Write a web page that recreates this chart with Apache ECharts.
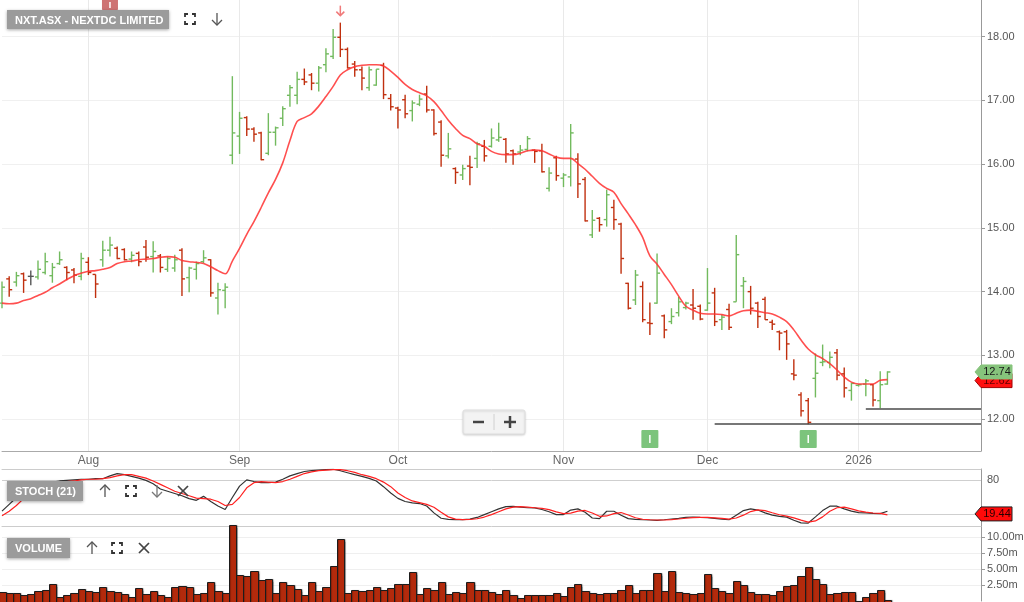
<!DOCTYPE html>
<html><head><meta charset="utf-8">
<script src="https://cdn.jsdelivr.net/npm/echarts@6/dist/echarts.min.js"></script>
<style>html,body{margin:0;padding:0;background:#fff}#c{width:1024px;height:602px}</style>
</head><body><div id="c"></div>
<script>
// ---------- DATA ----------
const tradingDays = [
  ['2025-07', [16,17,18,21,22,23,24,25,28,29,30,31]],
  ['2025-08', [1,4,5,6,7,8,11,12,13,14,15,18,19,20,21,22,25,26,27,28,29]],
  ['2025-09', [1,2,3,4,5,8,9,10,11,12,15,16,17,18,19,22,23,24,25,26,29,30]],
  ['2025-10', [1,2,3,6,7,8,9,10,13,14,15,16,17,20,21,22,23,24,27,28,29,30,31]],
  ['2025-11', [3,4,5,6,7,10,11,12,13,14,17,18,19,20,21,24,25,26,27,28]],
  ['2025-12', [1,2,3,4,5,8,9,10,11,12,15,16,17,18,19,22,23,24,29,30,31]],
  ['2026-01', [2,5,6,7,8]]
];
const monthLabels = {'2025-08-01':'Aug','2025-09-01':'Sep','2025-10-01':'Oct','2025-11-03':'Nov','2025-12-01':'Dec','2026-01-02':'2026'};
const futurePad = 13;

const open = [13.82,14.20,14.15,14.28,14.24,14.23,14.30,14.25,14.44,14.38,
14.34,14.24,14.46,14.27,14.50,14.65,14.68,14.66,14.51,14.60,
14.70,14.55,14.56,14.35,14.37,14.65,14.22,14.35,14.47,14.50,
13.90,14.02,16.14,16.44,16.73,16.55,16.49,16.17,16.50,16.72,
17.08,17.08,17.33,17.40,17.27,17.56,17.69,17.99,17.80,17.57,
17.48,17.20,17.24,17.55,17.03,16.88,17.01,16.84,16.94,17.10,
16.85,16.66,16.13,15.93,15.83,15.97,16.09,16.28,16.28,16.38,
16.39,16.21,16.19,16.23,16.22,16.21,15.62,16.10,15.78,15.80,
16.08,15.76,14.89,15.15,15.13,15.32,15.06,14.13,13.87,14.08,
13.51,13.82,13.62,13.53,13.67,13.75,13.79,13.77,13.71,13.98,
13.56,13.72,13.84,14.09,14.00,13.82,13.88,13.52,13.37,13.37,
12.71,12.38,12.29,12.64,12.89,12.89,13.04,12.71,12.45,12.53,
12.55,12.54,12.29,12.55];
const high = [14.16,14.24,14.31,14.30,14.33,14.49,14.61,14.45,14.63,14.40,
14.37,14.61,14.54,14.27,14.80,14.86,14.71,14.68,14.63,14.63,
14.81,14.79,14.59,14.55,14.58,14.68,14.39,14.47,14.65,14.51,
14.14,14.13,17.38,16.82,16.75,16.58,16.51,16.80,16.59,16.91,
17.24,17.45,17.50,17.43,17.54,17.82,18.12,18.22,17.83,17.62,
17.53,17.53,17.49,17.59,17.10,16.90,17.09,17.00,17.09,17.23,
16.86,16.69,16.49,15.95,15.99,16.13,16.35,16.38,16.56,16.65,
16.41,16.23,16.30,16.44,16.23,16.32,15.95,16.13,15.86,16.63,
16.17,15.80,15.28,15.17,15.60,15.44,15.08,14.14,14.34,14.16,
13.83,14.60,13.64,13.74,13.92,13.84,14.04,13.80,14.37,14.06,
13.64,13.81,14.89,14.23,14.09,13.84,13.92,13.56,13.39,13.40,
12.94,12.42,12.33,13.03,13.17,13.06,13.10,12.81,12.57,12.55,
12.63,12.55,12.75,12.75];
const low = [13.74,13.92,14.08,13.98,14.10,14.19,14.27,14.14,14.42,14.18,
14.13,14.18,14.26,13.90,14.39,14.55,14.51,14.49,14.46,14.40,
14.47,14.30,14.30,14.31,14.31,13.93,13.99,14.19,14.45,13.92,
13.64,13.74,16.00,16.16,16.44,16.35,16.06,16.14,16.29,16.60,
16.90,16.94,17.24,17.16,17.14,17.44,17.65,17.68,17.50,17.37,
17.16,17.15,17.23,17.02,16.84,16.56,16.72,16.67,16.91,16.81,
16.45,15.96,16.09,15.69,15.75,15.67,15.94,16.04,16.26,16.35,
16.02,15.99,16.14,16.20,16.02,15.87,15.57,15.74,15.64,15.65,
15.47,15.10,14.84,14.94,15.02,14.97,14.28,13.72,13.79,13.52,
13.32,13.81,13.27,13.49,13.61,13.72,13.56,13.55,13.70,13.46,
13.40,13.40,13.84,13.74,13.64,13.43,13.56,13.40,13.08,12.93,
12.61,12.04,11.92,12.34,12.83,12.80,12.61,12.34,12.29,12.51,
12.36,12.20,12.17,12.54];
const close = [14.07,14.03,14.25,14.18,14.24,14.35,14.47,14.38,14.50,14.30,
14.26,14.52,14.30,14.12,14.65,14.73,14.52,14.50,14.57,14.47,
14.54,14.63,14.38,14.52,14.50,14.20,14.37,14.44,14.53,13.98,
14.03,14.07,16.49,16.72,16.55,16.47,16.07,16.50,16.57,16.87,
17.20,17.33,17.29,17.27,17.51,17.73,17.99,17.80,17.51,17.48,
17.35,17.48,17.49,17.09,16.90,16.85,16.79,16.96,17.02,16.85,
16.48,16.14,16.24,15.87,15.93,15.95,16.32,16.13,16.41,16.42,
16.16,16.16,16.22,16.40,16.20,15.88,15.86,15.82,15.83,16.49,
15.69,15.11,15.12,15.05,15.52,15.13,14.52,13.74,14.26,13.56,
13.50,14.29,13.40,13.61,13.84,13.82,13.74,13.57,13.82,13.53,
13.60,13.44,14.58,14.16,13.74,13.61,13.56,13.49,13.35,13.18,
12.69,12.13,11.95,12.72,12.90,12.97,12.69,12.49,12.56,12.54,
12.60,12.30,12.54,12.74];
const movingAvg = [13.82,13.81,13.82,13.86,13.89,13.94,13.99,14.06,14.12,14.19,
14.25,14.29,14.32,14.33,14.35,14.38,14.44,14.47,14.48,14.50,
14.51,14.52,14.54,14.55,14.54,14.49,14.47,14.46,14.44,14.39,
14.33,14.28,14.48,14.68,14.90,15.10,15.32,15.55,15.76,16.02,
16.37,16.67,16.73,16.79,16.91,17.06,17.22,17.40,17.48,17.53,
17.55,17.56,17.56,17.54,17.46,17.36,17.25,17.17,17.12,17.07,
16.98,16.84,16.69,16.56,16.45,16.40,16.32,16.28,16.20,16.16,
16.15,16.15,16.17,16.21,16.22,16.21,16.16,16.11,16.09,16.09,
16.01,15.92,15.81,15.70,15.62,15.56,15.38,15.22,15.05,14.85,
14.56,14.43,14.27,14.11,13.93,13.77,13.71,13.66,13.65,13.65,
13.64,13.62,13.66,13.70,13.71,13.69,13.67,13.65,13.60,13.53,
13.40,13.24,13.10,13.01,12.95,12.87,12.77,12.66,12.58,12.55,
12.55,12.55,12.61,12.62];
const stochK = [26,38,50,60,66,70,74,77,79,80,
81,82,82,83,83,88,92,90,87,84,
80,74,65,61,57,53,48,45,52,43,
35,29,50,70,81,78,76,76,77,82,
88,92,95.6,97,98,99,99.5,97,93.5,90,
87,83.5,79,69,58,48.5,43,40.5,39.4,35,
23,13.6,11.5,11.1,11.1,12,15,20,25,30,
34,34.5,33,32,31.8,29,25,20,20,28,
30,24,14,13,25.9,25.9,19,12.9,11.5,11,
10.5,10,11,12.3,13.5,15,15.8,15,14.5,13.5,
12,11,19,27,30,28,23,19,17,15.5,
10,5.5,5.2,16,27,34.7,34.7,30,26,23.5,
23,22,21.7,25.9];
const stochD = [18,26,36,48,57,63,68,72,75,78,
79,81,82,82,83,85,88,90,90,87,
84,79,73,67,61,57,53,49,48,47,
43,36,38,50,67,76,78,77,76,78,
82,87,92,95,97,98,99,99,97,94,
90,87,83,77,69,58,50,44,41,38,
33,24,16,12,11.2,11.4,12.7,15.7,20,25,
30,33,34,33,32,31,28.6,24.7,21.7,22.7,
26,27.3,22.7,17,17.6,21.6,23.6,19.3,14.5,11.8,
11,10.5,10.5,11.1,12.3,13.6,14.8,15.3,15.1,14.3,
13.3,12.2,14,19,25.3,28.3,27,23.3,19.7,17.2,
14.2,10.3,6.9,8.9,16,25.9,32,33,30,26.5,
24.2,22.8,22.2,19.44];
const volumeM = [1.45,1.3,1.3,0.88,1.03,1.6,1.71,2.6,0.67,0.88,
1.19,1.92,1.5,1.35,2.24,1.6,1.35,1.03,0.67,2.08,
1.03,1.6,0.88,0.67,2.19,2.4,2.14,1.09,1.19,2.92,
1.56,1.19,11.94,4.02,3.92,4.75,3.34,3.44,1.19,2.92,
2.5,1.92,0.93,2.92,1.56,2.19,5.44,9.68,1.19,1.66,
1.56,1.66,2.19,1.66,2.08,2.6,2.6,4.54,1.03,2.08,
1.71,2.92,1.03,1.45,1.24,3.03,1.66,1.66,1.35,1.03,
1.71,0.93,0.51,0.88,0.88,0.88,0.88,1.3,0.77,2.19,
2.6,1.6,1.3,1.03,1.3,1.19,1.71,2.45,1.3,1.71,
1.71,4.34,1.5,4.7,1.45,1.19,1.03,1.3,4.18,2.08,
1.6,1.19,3.13,2.45,1.45,1.03,1.03,0.88,1.6,2.34,
2.45,3.86,5.28,3.5,2.6,1.03,1.19,1.45,1.35,0.03,
0.67,1.19,1.71,0.2];
const supportLines = [{from:99, value:11.92},{from:120, value:12.17}];
const topEvents = [15];
const bottomEvents = [90, 112];
const peakIdx = 47;
const priceTicks = {min:11.5, max:18.575};
const volInterval = 2.5;

// ---------- BUILD ----------
const cats = [];
tradingDays.forEach(([ym, days]) => days.forEach(d => cats.push(ym + '-' + String(d).padStart(2,'0'))));
const lastIdx = cats.length - 1;
for (let k = 0; k < futurePad; k++) cats.push('pad' + k);
const rightIdx = cats.length - 1;
const volMax = Math.max.apply(null, volumeM);

const FONT = '"Liberation Sans", Arial, sans-serif';
const UP = '#72ba5e', DOWN = '#c0300f', FLAT = '#555';
const isMonth = (idx, val) => monthLabels[val] !== undefined;

const ohlcData = open.map((o, i) => [i, o, high[i], low[i], close[i]]);
const volData = volumeM.map((v, i) => [i, v]);

function renderOHLC(params, api) {
  const i = api.value(0), o = api.value(1), h = api.value(2), l = api.value(3), c = api.value(4);
  const pH = api.coord([i, h]), pL = api.coord([i, l]);
  const yO = api.coord([i, o])[1], yC = api.coord([i, c])[1];
  const x = pH[0];
  const col = c > o ? UP : (c < o ? DOWN : FLAT);
  const st = {stroke: col, lineWidth: 1.4};
  return {type: 'group', children: [
    {type: 'line', shape: {x1: x, y1: pH[1], x2: x, y2: pL[1]}, style: st},
    {type: 'line', shape: {x1: x - 3, y1: yO, x2: x, y2: yO}, style: st},
    {type: 'line', shape: {x1: x, y1: yC, x2: x + 3, y2: yC}, style: st}
  ]};
}

function renderVolume(params, api) {
  const i = api.value(0), v = api.value(1);
  const top = api.coord([i, v]);
  const base = api.coord([i, 0]);
  const w = api.coord([i + 1, 0])[0] - base[0];
  const x0 = Math.round(top[0] - w / 2) + 0.5;
  const x1 = Math.round(top[0] + w / 2) + 0.5;
  const y0 = Math.round(top[1]) + 0.5;
  return {type: 'rect', shape: {x: x0, y: y0, width: x1 - x0, height: base[1] - y0 + 2},
    style: {fill: '#b32a0c', stroke: '#1c1c1c', lineWidth: 1, shadowColor: 'rgba(0,0,0,0.25)', shadowOffsetX: 1, shadowBlur: 1}};
}

function tagShape(xr, y, fill, stroke, text, textColor) {
  return [
    {type: 'polygon', shape: {points: [[xr - 6, y], [xr, y - 7], [xr + 31, y - 7], [xr + 31, y + 7], [xr, y + 7]]},
     style: {fill: fill, stroke: stroke, lineWidth: 1}},
    {type: 'text', style: {x: xr + 16, y: y, text: text, fill: textColor, font: '11px ' + FONT,
      align: 'center', verticalAlign: 'middle', textAlign: 'center', textVerticalAlign: 'middle'}}
  ];
}

// UI chrome
const graphics = [];
function box(x, y, w, h, text) {
  graphics.push({type: 'rect', z: 100, shape: {x: x, y: y, width: w, height: h},
    style: {fill: '#9b9b9b', shadowBlur: 3, shadowColor: 'rgba(0,0,0,0.35)', shadowOffsetY: 1}});
  graphics.push({type: 'text', z: 101, style: {x: x + 8, y: y + h / 2 + 1, text: text, fill: '#fff',
    font: 'bold 11px ' + FONT, verticalAlign: 'middle', textVerticalAlign: 'middle'}});
}
function expandIcon(cx, cy, col) {
  const s = 5, k = 3;
  [[-1,-1],[1,-1],[1,1],[-1,1]].forEach(([dx, dy]) => {
    graphics.push({type: 'polyline', z: 100, shape: {points: [[cx + dx*s, cy + dy*(s-k)], [cx + dx*s, cy + dy*s], [cx + dx*(s-k), cy + dy*s]]},
      style: {stroke: col, lineWidth: 1.8, fill: null}});
  });
}
function arrowIcon(cx, cy, dir, col) {
  const t = dir > 0 ? cy + 6 : cy - 6, b = dir > 0 ? cy - 6 : cy + 6;
  graphics.push({type: 'line', z: 100, shape: {x1: cx, y1: b, x2: cx, y2: t}, style: {stroke: col, lineWidth: 1.3}});
  graphics.push({type: 'polyline', z: 100, shape: {points: [[cx - 5, t - dir*5], [cx, t], [cx + 5, t - dir*5]]}, style: {stroke: col, lineWidth: 1.3, fill: null}});
}
function xIcon(cx, cy, col) {
  graphics.push({type: 'line', z: 100, shape: {x1: cx - 5, y1: cy - 5, x2: cx + 5, y2: cy + 5}, style: {stroke: col, lineWidth: 1.7}});
  graphics.push({type: 'line', z: 100, shape: {x1: cx + 5, y1: cy - 5, x2: cx - 5, y2: cy + 5}, style: {stroke: col, lineWidth: 1.7}});
}
box(7, 10, 162, 19, 'NXT.ASX - NEXTDC LIMITED');
expandIcon(190, 19, '#333'); arrowIcon(217, 19, 1, '#555');
box(7, 481, 76, 20, 'STOCH (21)');
arrowIcon(105, 491, -1, '#555'); expandIcon(131, 491, '#333'); arrowIcon(157, 491, 1, '#777'); xIcon(183, 491, '#444');
box(7, 538, 63, 20, 'VOLUME');
arrowIcon(92, 548, -1, '#555'); expandIcon(117, 548, '#333'); xIcon(144, 548, '#444');
graphics.push({type: 'rect', z: 100, shape: {x: 463, y: 410, width: 62, height: 24, r: 2},
  style: {fill: '#f3f3f3', stroke: '#e0e0e0', shadowBlur: 2, shadowColor: 'rgba(0,0,0,0.15)', shadowOffsetY: 1}});
graphics.push({type: 'line', z: 101, shape: {x1: 473, y1: 422, x2: 484, y2: 422}, style: {stroke: '#444', lineWidth: 2.5}});
graphics.push({type: 'line', z: 101, shape: {x1: 494, y1: 414, x2: 494, y2: 430}, style: {stroke: '#d0d0d0', lineWidth: 1}});
graphics.push({type: 'line', z: 101, shape: {x1: 504, y1: 422, x2: 516, y2: 422}, style: {stroke: '#444', lineWidth: 2.5}});
graphics.push({type: 'line', z: 101, shape: {x1: 510, y1: 416, x2: 510, y2: 428}, style: {stroke: '#444', lineWidth: 2.5}});

const baseX = {type: 'category', data: cats, boundaryGap: false, axisTick: {show: false}};

const option = {
  animation: false,
  backgroundColor: '#fff',
  textStyle: {fontFamily: FONT},
  graphic: graphics,
  grid: [
    {left: 2, right: 43, top: 0, height: 451, outerBoundsMode: 'none'},
    {left: 2, right: 43, top: 469, height: 57, outerBoundsMode: 'none'},
    {left: 2, right: 43, top: 525, height: 76, outerBoundsMode: 'none'}
  ],
  xAxis: [
    Object.assign({}, baseX, {gridIndex: 0,
      axisLine: {lineStyle: {color: '#aaa'}},
      axisLabel: {interval: isMonth, formatter: v => monthLabels[v] || '', color: '#666', fontSize: 12, margin: 4},
      splitLine: {show: true, interval: isMonth, lineStyle: {color: '#e9e9e9', width: 1}}}),
    Object.assign({}, baseX, {gridIndex: 1, position: 'bottom',
      axisLine: {lineStyle: {color: '#ccc'}}, axisLabel: {show: false}, splitLine: {show: false}}),
    Object.assign({}, baseX, {gridIndex: 1, position: 'top',
      axisLine: {lineStyle: {color: '#ccc'}}, axisLabel: {show: false}, splitLine: {show: false}}),
    Object.assign({}, baseX, {gridIndex: 2,
      axisLine: {show: false}, axisLabel: {show: false}, splitLine: {show: false}})
  ],
  yAxis: [
    {gridIndex: 0, type: 'value', position: 'right', min: priceTicks.min, max: priceTicks.max, splitNumber: 7, scale: true,
      axisLine: {show: true, lineStyle: {color: '#999'}},
      axisTick: {show: true, length: 4, lineStyle: {color: '#999'}},
      axisLabel: {formatter: v => v.toFixed(2), color: '#555', fontSize: 11, margin: 6, showMinLabel: false, showMaxLabel: false},
      splitLine: {show: true, showMinLine: false, showMaxLine: false, lineStyle: {color: '#f0f0f0'}}},
    {gridIndex: 1, type: 'value', position: 'right', min: 0, max: 100, interval: 20,
      axisLine: {show: true, lineStyle: {color: '#999'}},
      axisTick: {show: false},
      axisLabel: {formatter: v => v === 80 ? '80' : '', color: '#555', fontSize: 11, margin: 6},
      splitLine: {show: true, lineStyle: {color: ['rgba(0,0,0,0)', '#cfcfcf', 'rgba(0,0,0,0)', 'rgba(0,0,0,0)', '#cfcfcf', 'rgba(0,0,0,0)']}}},
    {gridIndex: 2, type: 'value', position: 'right', min: 0, max: volMax, interval: volInterval,
      axisLine: {show: true, lineStyle: {color: '#999'}},
      axisTick: {show: true, length: 4, lineStyle: {color: '#999'}},
      axisLabel: {formatter: v => v.toFixed(2) + 'm', color: '#555', fontSize: 11, margin: 6, showMinLabel: false, showMaxLabel: false},
      splitLine: {show: true, showMinLine: false, showMaxLine: false, lineStyle: {color: '#efefef'}}}
  ],
  series: [
    {type: 'custom', name: 'OHLC', xAxisIndex: 0, yAxisIndex: 0, data: ohlcData,
      encode: {x: 0, y: [1, 2, 3, 4]}, renderItem: renderOHLC, silent: true, z: 3},
    {type: 'line', name: 'MA', xAxisIndex: 0, yAxisIndex: 0, data: movingAvg, smooth: 0.35, showSymbol: false, symbol: 'none',
      lineStyle: {color: '#ff3030', width: 1.6, opacity: 0.85}, silent: true, z: 4,
      markLine: {silent: true, symbol: 'none', label: {show: false},
        lineStyle: {color: '#4a4a4a', width: 1.6, type: 'solid'},
        data: supportLines.map(s => [{coord: [s.from, s.value]}, {coord: [rightIdx, s.value]}])}},
    {type: 'custom', name: 'peak', xAxisIndex: 0, yAxisIndex: 0, data: [[peakIdx, high[peakIdx]]], silent: true, z: 5,
      renderItem: (params, api) => {
        const p = api.coord([api.value(0), api.value(1)]);
        const tip = p[1] - 7;
        return {type: 'group', children: [
          {type: 'line', shape: {x1: p[0], y1: tip - 10, x2: p[0], y2: tip}, style: {stroke: '#f07a7a', lineWidth: 1.5}},
          {type: 'polyline', shape: {points: [[p[0] - 4, tip - 4], [p[0], tip], [p[0] + 4, tip - 4]]}, style: {stroke: '#f07a7a', lineWidth: 1.5, fill: null}}
        ]};
      }},
    {type: 'custom', name: 'eventsTop', xAxisIndex: 0, yAxisIndex: 0, data: topEvents.map(i => [i, high[i]]), silent: true, z: 6,
      renderItem: (params, api) => {
        const x = api.coord([api.value(0), api.value(1)])[0];
        const top = params.coordSys.y;
        return {type: 'group', children: [
          {type: 'rect', shape: {x: x - 8, y: top - 4, width: 16, height: 15, r: 2}, style: {fill: '#c96464', opacity: 0.9}},
          {type: 'line', shape: {x1: x, y1: top + 2, x2: x, y2: top + 8}, style: {stroke: '#fff', lineWidth: 1.5}}
        ]};
      }},
    {type: 'custom', name: 'eventsBottom', xAxisIndex: 0, yAxisIndex: 0, data: bottomEvents.map(i => [i, low[i]]), silent: true, z: 6,
      renderItem: (params, api) => {
        const x = api.coord([api.value(0), api.value(1)])[0];
        const bot = params.coordSys.y + params.coordSys.height;
        return {type: 'group', children: [
          {type: 'rect', shape: {x: x - 8.5, y: bot - 21, width: 17, height: 18, r: 1}, style: {fill: '#7cc47c'}},
          {type: 'line', shape: {x1: x, y1: bot - 16, x2: x, y2: bot - 8}, style: {stroke: '#fff', lineWidth: 1.5}}
        ]};
      }},
    {type: 'custom', name: 'priceTags', xAxisIndex: 0, yAxisIndex: 0,
      data: [[lastIdx, movingAvg[lastIdx]], [lastIdx, close[lastIdx]]], silent: true, z: 20,
      renderItem: (params, api) => {
        const xr = params.coordSys.x + params.coordSys.width;
        const v = api.value(1);
        const y = api.coord([api.value(0), v])[1];
        const isClose = params.dataIndex === 1;
        return {type: 'group', children: isClose
          ? tagShape(xr, y, '#86c47c', '#86c47c', v.toFixed(2), '#1a1a1a')
          : tagShape(xr, y + 1, '#ff1010', '#a00000', v.toFixed(2), '#600000')};
      }},
    {type: 'line', name: '%K', xAxisIndex: 1, yAxisIndex: 1, data: stochK, showSymbol: false, symbol: 'none',
      lineStyle: {color: '#333', width: 1.2}, silent: true, z: 3},
    {type: 'line', name: '%D', xAxisIndex: 1, yAxisIndex: 1, data: stochD, showSymbol: false, symbol: 'none',
      lineStyle: {color: '#ff2020', width: 1.2}, silent: true, z: 4},
    {type: 'custom', name: 'stochTag', xAxisIndex: 1, yAxisIndex: 1, data: [[lastIdx, stochD[lastIdx]]], silent: true, z: 20,
      renderItem: (params, api) => {
        const xr = params.coordSys.x + params.coordSys.width;
        const v = api.value(1);
        const y = api.coord([api.value(0), v])[1];
        return {type: 'group', children: tagShape(xr, y - 1, '#ff0a0a', '#222', v.toFixed(2), '#2a0000')};
      }},
    {type: 'custom', name: 'Volume', xAxisIndex: 3, yAxisIndex: 2, data: volData,
      encode: {x: 0, y: 1}, renderItem: renderVolume, silent: true, z: 5}
  ]
};
const chart = echarts.init(document.getElementById('c'));
chart.setOption(option);
</script>
</body></html>
